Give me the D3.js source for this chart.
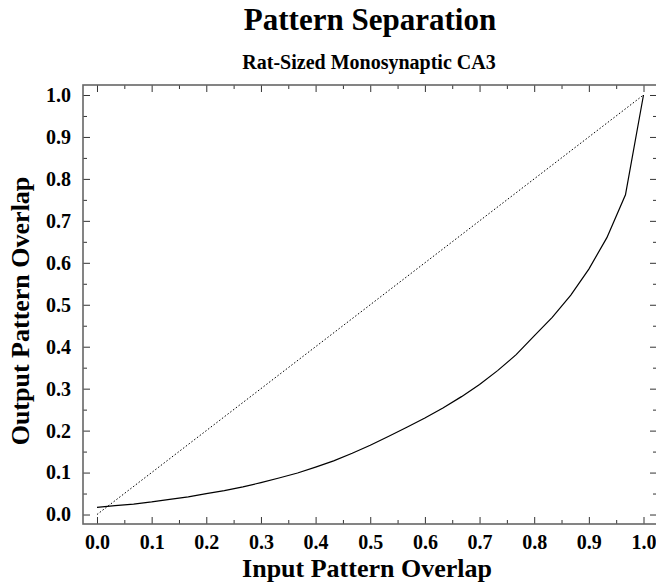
<!DOCTYPE html>
<html>
<head>
<meta charset="utf-8">
<script src="https://cdn.jsdelivr.net/npm/d3@7"></script>
<style>
  body { margin: 0; background: #fff; }
  svg { display: block; font-family: "Liberation Serif", "DejaVu Serif", serif; font-weight: bold; }
  .tick line { stroke: #333; }
</style>
</head>
<body>
<svg id="chart" width="656" height="582"></svg>
<script>
// overlap of the input pattern (x) and output pattern (y)
const inputOverlap = [0, 0.033, 0.067, 0.1, 0.133, 0.167, 0.2, 0.233, 0.267, 0.3,
  0.333, 0.367, 0.4, 0.433, 0.467, 0.5, 0.533, 0.567, 0.6, 0.633,
  0.667, 0.7, 0.733, 0.767, 0.8, 0.833, 0.867, 0.9, 0.933, 0.967, 1.0];
const outputOverlap = [0.017, 0.021, 0.025, 0.030, 0.036, 0.042, 0.050, 0.057, 0.066, 0.076,
  0.087, 0.099, 0.113, 0.128, 0.146, 0.165, 0.186, 0.208, 0.230, 0.254,
  0.281, 0.310, 0.343, 0.381, 0.426, 0.470, 0.523, 0.585, 0.660, 0.762, 1.0];
// identity reference line
const identityLine = [[0, 0], [1, 1]];
const majorTicks = [0, 0.1, 0.2, 0.3, 0.4, 0.5, 0.6, 0.7, 0.8, 0.9, 1.0];
const minorTicks = [0.05, 0.15, 0.25, 0.35, 0.45, 0.55, 0.65, 0.75, 0.85, 0.95];

(function () {
  const svg = d3.select('#chart');
  const left = 83, right = 657, top = 85, bottom = 524;

  const x = d3.scaleLinear().domain([-0.0256, 1.0247]).range([left, right]);
  const y = d3.scaleLinear().domain([-0.0226, 1.0238]).range([bottom, top]);
  const fmt = d3.format('.1f');

  // titles
  svg.append('text')
    .attr('x', 370).attr('y', 30)
    .attr('text-anchor', 'middle')
    .attr('font-size', 31)
    .text('Pattern Separation');

  svg.append('text')
    .attr('x', 369).attr('y', 69)
    .attr('text-anchor', 'middle')
    .attr('font-size', 20)
    .text('Rat-Sized Monosynaptic CA3');

  // major ticks with labels
  svg.append('g')
    .attr('transform', 'translate(0,' + bottom + ')')
    .call(d3.axisBottom(x).tickValues(majorTicks).tickFormat(fmt).tickSizeInner(-7).tickSizeOuter(0).tickPadding(11))
    .attr('font-family', null)
    .call(g => g.select('.domain').remove())
    .call(g => g.selectAll('text').attr('font-size', 20).attr('fill', '#000'));

  svg.append('g')
    .attr('transform', 'translate(' + left + ',0)')
    .call(d3.axisLeft(y).tickValues(majorTicks).tickFormat(fmt).tickSizeInner(-7).tickSizeOuter(0).tickPadding(12))
    .attr('font-family', null)
    .call(g => g.select('.domain').remove())
    .call(g => g.selectAll('text').attr('font-size', 20).attr('fill', '#000'));

  // ticks on top and right, no labels
  svg.append('g')
    .attr('transform', 'translate(0,' + top + ')')
    .call(d3.axisTop(x).tickValues(majorTicks).tickFormat('').tickSizeInner(-7).tickSizeOuter(0))
    .call(g => g.select('.domain').remove());

  svg.append('g')
    .attr('transform', 'translate(' + right + ',0)')
    .call(d3.axisRight(y).tickValues(majorTicks).tickFormat('').tickSizeInner(-7).tickSizeOuter(0))
    .call(g => g.select('.domain').remove());

  // minor ticks on every side
  [[d3.axisBottom(x), 'translate(0,' + bottom + ')'],
   [d3.axisTop(x), 'translate(0,' + top + ')'],
   [d3.axisLeft(y), 'translate(' + left + ',0)'],
   [d3.axisRight(y), 'translate(' + right + ',0)']].forEach(function (a) {
    svg.append('g')
      .attr('transform', a[1])
      .call(a[0].tickValues(minorTicks).tickFormat('').tickSizeInner(-4).tickSizeOuter(0))
      .call(g => g.select('.domain').remove());
  });

  // frame
  svg.append('rect')
    .attr('x', left).attr('y', top)
    .attr('width', right - left).attr('height', bottom - top)
    .attr('fill', 'none')
    .attr('stroke', '#666')
    .attr('stroke-width', 1.6);

  const line = d3.line().x(d => x(d[0])).y(d => y(d[1]));

  svg.append('path')
    .datum(identityLine)
    .attr('d', line)
    .attr('fill', 'none')
    .attr('stroke', '#000')
    .attr('stroke-width', 1)
    .attr('stroke-dasharray', '1.5,2');

  svg.append('path')
    .datum(inputOverlap.map((v, i) => [v, outputOverlap[i]]))
    .attr('d', line)
    .attr('fill', 'none')
    .attr('stroke', '#000')
    .attr('stroke-width', 1.2);

  // axis titles
  svg.append('text')
    .attr('x', 367).attr('y', 577)
    .attr('text-anchor', 'middle')
    .attr('font-size', 26)
    .text('Input Pattern Overlap');

  svg.append('text')
    .attr('transform', 'translate(29,311) rotate(-90)')
    .attr('text-anchor', 'middle')
    .attr('font-size', 26)
    .text('Output Pattern Overlap');
})();
</script>
</body>
</html>
